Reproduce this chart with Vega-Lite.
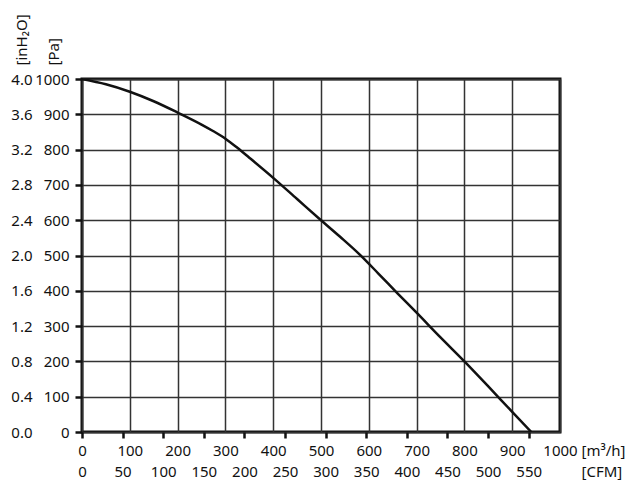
{
  "$schema": "https://vega.github.io/schema/vega-lite/v6.json",
  "autosize": {"type": "none"},
  "padding": {"left": 82, "top": 79, "right": 72, "bottom": 55},
  "width": 478,
  "height": 353,
  "background": "white",
  "config": {
    "view": {"stroke": "#111", "strokeWidth": 3},
    "font": "Noto Sans",
    "axis": {
      "labelFont": "Noto Sans",
      "labelFontSize": 15,
      "labelColor": "#111",
      "titleFont": "Noto Sans",
      "titleFontSize": 15,
      "titleFontWeight": "normal",
      "titleColor": "#111",
      "domain": false,
      "tickColor": "#111",
      "tickWidth": 2.5,
      "gridColor": "#333",
      "gridWidth": 1.5,
      "gridOpacity": 1
    }
  },
  "data": {
    "values": [
      {"flow": 0, "pa": 1000},
      {"flow": 50, "pa": 985},
      {"flow": 100, "pa": 964},
      {"flow": 150, "pa": 937},
      {"flow": 200, "pa": 905},
      {"flow": 250, "pa": 871},
      {"flow": 275, "pa": 852},
      {"flow": 300, "pa": 831},
      {"flow": 325, "pa": 805},
      {"flow": 350, "pa": 777},
      {"flow": 400, "pa": 720},
      {"flow": 450, "pa": 660},
      {"flow": 500, "pa": 600},
      {"flow": 540, "pa": 553},
      {"flow": 580, "pa": 504},
      {"flow": 620, "pa": 449},
      {"flow": 660, "pa": 393},
      {"flow": 700, "pa": 338},
      {"flow": 750, "pa": 268},
      {"flow": 800, "pa": 200},
      {"flow": 850, "pa": 129},
      {"flow": 900, "pa": 57},
      {"flow": 940, "pa": 0}
    ]
  },
  "layer": [
    {
      "mark": {"type": "line", "color": "#111", "strokeWidth": 2.5, "interpolate": "monotone", "clip": true},
      "encoding": {
        "x": {
          "field": "flow", "type": "quantitative",
          "scale": {"domain": [0, 1000], "nice": false, "zero": false},
          "axis": {
            "orient": "bottom",
            "values": [0, 100, 200, 300, 400, 500, 600, 700, 800, 900, 1000],
            "format": "d",
            "ticks": false,
            "labelPadding": 18,
            "labelBaseline": "middle",
            "labelAlign": "center",
            "grid": true,
            "title": "[m³/h]",
            "titleX": 499,
            "titleY": 18,
            "titleAlign": "left",
            "titleBaseline": "middle",
            "titleAngle": 0
          }
        },
        "y": {
          "field": "pa", "type": "quantitative",
          "scale": {"domain": [0, 1000], "nice": false, "zero": false},
          "axis": {
            "orient": "left",
            "values": [0, 100, 200, 300, 400, 500, 600, 700, 800, 900, 1000],
            "format": "d",
            "ticks": true,
            "tickSize": 7,
            "labelPadding": 6,
            "grid": true,
            "title": "[Pa]",
            "titleAngle": -90,
            "titleX": -21,
            "titleY": -14,
            "titleAlign": "left",
            "titleBaseline": "bottom"
          }
        }
      }
    },
    {
      "mark": {"type": "point", "opacity": 0},
      "encoding": {
        "x": {
          "field": "flow", "type": "quantitative",
          "scale": {"domain": [0, 1000], "nice": false, "zero": false},
          "axis": {
            "orient": "bottom",
            "values": [0, 84.95, 169.9, 254.85, 339.8, 424.75, 509.7, 594.65, 679.6, 764.55, 849.5, 934.46],
            "labelExpr": "format(round(datum.value / 1.69901), 'd')",
            "ticks": true,
            "tickSize": 6,
            "labelPadding": 33,
            "labelBaseline": "middle",
            "labelAlign": "center",
            "grid": false,
            "title": "[CFM]",
            "titleX": 499,
            "titleY": 39,
            "titleAlign": "left",
            "titleBaseline": "middle",
            "titleAngle": 0
          }
        },
        "y": {
          "field": "pa", "type": "quantitative",
          "scale": {"domain": [0, 1000], "nice": false, "zero": false},
          "axis": {
            "orient": "left",
            "values": [0, 100, 200, 300, 400, 500, 600, 700, 800, 900, 1000],
            "labelExpr": "format(datum.value / 250, '.1f')",
            "ticks": false,
            "labelPadding": 50,
            "grid": false,
            "title": "[inH₂O]",
            "titleAngle": -90,
            "titleX": -53,
            "titleY": -14,
            "titleAlign": "left",
            "titleBaseline": "bottom"
          }
        }
      }
    }
  ],
  "resolve": {"axis": {"x": "independent", "y": "independent"}}
}
